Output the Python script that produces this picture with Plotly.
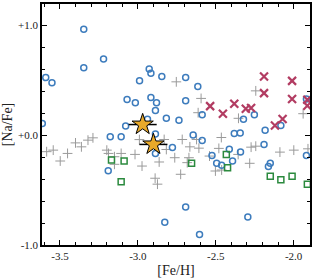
import plotly.graph_objects as go

# Blue open circles
circ_x = [-3.347, -3.22, -3.347, -3.591, -3.551, -2.927, -2.916, -2.989, -3.069, -3.016,
          -2.916, -2.88, -2.887, -3.613, -3.078, -2.938, -3.177, -3.107, -2.887, -2.846,
          -2.693, -2.615, -2.693, -2.817, -2.736, -2.587, -2.322, -2.252, -2.183, -2.082,
          -2.381, -2.343, -2.645, -2.587, -1.918, -2.887, -3.19, -2.778, -2.524, -2.494,
          -2.462, -2.413, -2.392, -2.341, -2.19, -2.162, -2.15, -1.918, -2.693, -2.827,
          -2.604, -2.294]
circ_y = [0.966, 0.694, 0.615, 0.525, 0.477, 0.603, 0.564, 0.495, 0.326, 0.296,
          0.344, 0.296, 0.226, 0.106, 0.084, 0.145, -0.015, -0.015, 0.012, 0.534,
          0.525, 0.443, 0.314, 0.154, 0.136, 0.187, 0.145, 0.187, 0.045, 0.088,
          0.015, 0.021, 0.003, -0.048, 0.33, -0.166, -0.323, -0.111, -0.184, -0.256,
          -0.274, -0.129, -0.235, -0.154, -0.084, -0.284, -0.256, -0.184, -0.654, -0.793,
          -0.905, -0.745]

# Green open squares
sq_x = [-3.169, -3.088, -3.107, -2.655, -2.432, -2.424, -2.15, -2.082, -2.01, -1.912]
sq_y = [-0.226, -0.235, -0.425, -0.256, -0.175, -0.296, -0.374, -0.405, -0.374, -0.446]

# Red crosses (x)
x_x = [-2.19, -2.01, -2.19, -2.01, -2.536, -2.454, -2.381, -2.307, -2.273, -2.071,
       -2.12, -1.912, -1.912]
x_y = [0.534, 0.495, 0.383, 0.329, 0.265, 0.196, 0.287, 0.241, 0.247, 0.148,
       0.088, 0.323, 0.269]

# Gray plus signs
p_x = [-2.753, -2.594, -2.613, -2.243, -2.354, -1.939, -2.464, -2.623, -2.715, -2.831,
       -3.288, -3.32, -3.362, -3.4, -3.451, -3.498, -3.543, -3.585, -3.199, -3.188,
       -3.15, -3.15, -3.107, -3.018, -2.973, -2.99, -2.889, -2.874, -2.666, -2.608,
       -2.817, -2.763, -2.672, -2.54, -2.863, -2.48, -2.725, -2.502, -2.462, -2.356,
       -2.282, -2.273, -2.243, -2.088, -1.999, -1.908, -2.683]
p_y = [0.486, 0.335, 0.205, 0.404, 0.154, 0.196, -0.021, -0.039, -0.039, -0.039,
       -0.024, -0.045, -0.106, -0.07, -0.166, -0.235, -0.136, -0.15, -0.136, -0.166,
       -0.196, -0.265, -0.166, -0.175, -0.281, -0.04, -0.392, -0.446, -0.106, -0.118,
       -0.13, -0.205, -0.205, -0.19, -0.244, -0.12, -0.356, -0.326, -0.317, -0.175,
       -0.256, -0.109, -0.1, -0.154, -0.136, -0.124, -0.25]

# Program stars
star_x = [-2.969, -2.90]
star_y = [0.097, -0.084]
star_xerr = [0.09, 0.09]

xtick_vals = [-3.5, -3.0, -2.5, -2.0]
xtick_text = ["-3.5", "-3.0", "-2.5", "-2.0"]
ytick_vals = [1.0, 0.0, -1.0]
ytick_text = ["+1.0", "+0.0", "-1.0"]

fig = go.Figure()
fig.add_trace(go.Scatter(x=p_x, y=p_y, mode="markers",
                         marker=dict(symbol="cross-thin-open", size=7, color="#9a9a9a",
                                     line=dict(width=1, color="#9a9a9a"))))
fig.add_trace(go.Scatter(x=circ_x, y=circ_y, mode="markers",
                         marker=dict(symbol="circle-open", size=6, color="#3d7cbd",
                                     line=dict(width=1.5, color="#3d7cbd"))))
fig.add_trace(go.Scatter(x=sq_x, y=sq_y, mode="markers",
                         marker=dict(symbol="square-open", size=6, color="#2b8a3e",
                                     line=dict(width=1.5, color="#2b8a3e"))))
fig.add_trace(go.Scatter(x=x_x, y=x_y, mode="markers",
                         marker=dict(symbol="x-thin-open", size=8, color="#b23c62",
                                     line=dict(width=2.2, color="#b23c62"))))
fig.add_trace(go.Scatter(x=star_x, y=star_y, mode="markers",
                         error_x=dict(type="data", array=star_xerr, color="black",
                                      thickness=1.5, width=0),
                         marker=dict(symbol="star", size=16, color="#e8a92a",
                                     line=dict(width=1, color="black"))))

axis_common = dict(showline=True, linecolor="black", linewidth=1.5, mirror="allticks",
                   ticks="inside", ticklen=5, tickwidth=1, tickcolor="black",
                   showgrid=False, zeroline=False,
                   tickfont=dict(family="Liberation Serif", size=11, color="#222222"))

fig.update_xaxes(range=[-3.615, -1.895], tickvals=xtick_vals, ticktext=xtick_text,
                 minor=dict(dtick=0.1, tick0=-3.5, ticks="inside", ticklen=3,
                            tickcolor="black", showgrid=False),
                 title=dict(text="[Fe/H]", font=dict(family="Liberation Serif", size=14,
                                                      color="#222222"), standoff=4),
                 **axis_common)
fig.update_yaxes(range=[-1.0, 1.195], tickvals=ytick_vals, ticktext=ytick_text,
                 minor=dict(dtick=0.2, tick0=0, ticks="inside", ticklen=3,
                            tickcolor="black", showgrid=False),
                 title=dict(text="[Na/Fe]", font=dict(family="Liberation Serif", size=14,
                                                       color="#222222"), standoff=4),
                 **axis_common)

fig.update_layout(width=314, height=278, showlegend=False,
                  margin=dict(l=42, r=2, t=2, b=33),
                  plot_bgcolor="white", paper_bgcolor="white")

fig.write_html("out.html", config={"displayModeBar": False},
               post_script="document.body.style.margin='0px';document.body.style.overflow='hidden';")
